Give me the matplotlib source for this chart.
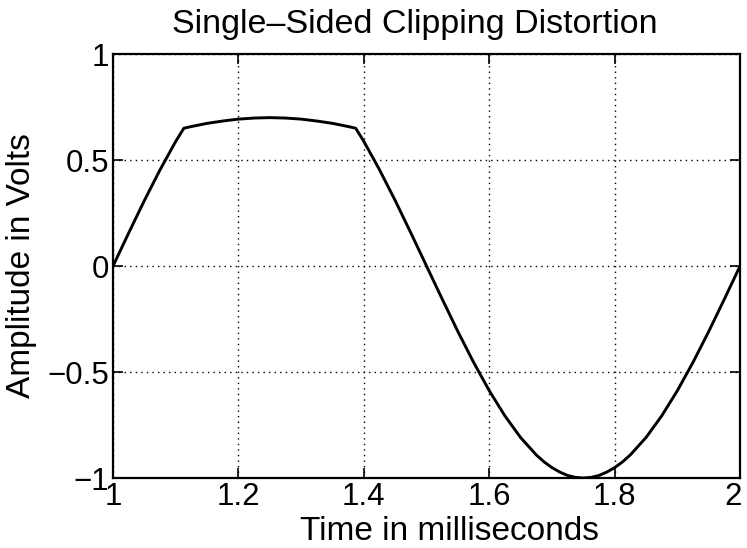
# libraries
import matplotlib
matplotlib.use('Agg')
import matplotlib.pyplot as plt
from matplotlib.transforms import ScaledTranslation

plt.rcParams['font.family'] = ['Liberation Sans', 'DejaVu Sans']

# time axis in milliseconds, one period of the signal
t_ms = [1.000, 1.025, 1.050, 1.075, 1.100, 1.113, 1.125, 1.150, 1.175, 1.200,
        1.225, 1.250, 1.275, 1.300, 1.325, 1.350, 1.375, 1.387, 1.400, 1.425,
        1.450, 1.475, 1.500, 1.525, 1.550, 1.575, 1.600, 1.625, 1.650, 1.675,
        1.6875, 1.700, 1.7125, 1.725, 1.7375, 1.750, 1.7625, 1.775, 1.7875, 1.800,
        1.8125, 1.825, 1.850, 1.875, 1.900, 1.925, 1.950, 1.975, 2.000]

# amplitude in volts (positive half is squashed above ~0.65 V)
volts = [0.000, 0.156, 0.309, 0.454, 0.588, 0.650, 0.658, 0.673, 0.684, 0.693,
         0.698, 0.700, 0.698, 0.693, 0.684, 0.673, 0.658, 0.650, 0.588, 0.454,
         0.309, 0.156, 0.000, -0.156, -0.309, -0.454, -0.588, -0.707, -0.809, -0.891,
         -0.924, -0.951, -0.972, -0.988, -0.997, -1.000, -0.997, -0.988, -0.972, -0.951,
         -0.924, -0.891, -0.809, -0.707, -0.588, -0.454, -0.309, -0.156, 0.000]

xticks = [1, 1.2, 1.4, 1.6, 1.8, 2]
xtick_labels = ['1', '1.2', '1.4', '1.6', '1.8', '2']
yticks = [-1, -0.5, 0, 0.5, 1]
ytick_labels = ['\u22121', '\u22120.5', '0', '0.5', '1']

fig = plt.figure(figsize=(7.47, 5.48), dpi=100)
ax = fig.add_axes([0.1513, 0.1277, 0.8394, 0.7737])

ax.plot(t_ms, volts, color='black', linewidth=2.1)

ax.set_xlim(1, 2)
ax.set_ylim(-1, 1)
ax.set_xticks(xticks)
ax.set_xticklabels(xtick_labels)
ax.set_yticks(yticks)
ax.set_yticklabels(ytick_labels)

# MATLAB-ish look: inward ticks on all sides, dotted grid
ax.tick_params(direction='in', length=7, width=1.2, labelsize=22.5,
               top=True, right=True)
ax.tick_params(axis='x', pad=3)
ax.tick_params(axis='y', pad=3)
ax.grid(True, color='black', linestyle=(0, (1, 3)), linewidth=1.0)
for s in ax.spines.values():
    s.set_linewidth(1.6)

# pull the last x label ("2") a bit left so it stays inside the figure
last = ax.get_xticklabels()[-1]
last.set_transform(last.get_transform() + ScaledTranslation(-7 / 100, 0, fig.dpi_scale_trans))

ax.set_title('Single\u2013Sided Clipping Distortion', fontsize=24.5, x=0.482, pad=15)
ax.set_xlabel('Time in milliseconds', fontsize=24)
ax.xaxis.set_label_coords(0.537, -0.09)
ax.set_ylabel('Amplitude in Volts', fontsize=24)
ax.yaxis.set_label_coords(-0.122, 0.5)

plt.savefig('out.png', dpi=100)
